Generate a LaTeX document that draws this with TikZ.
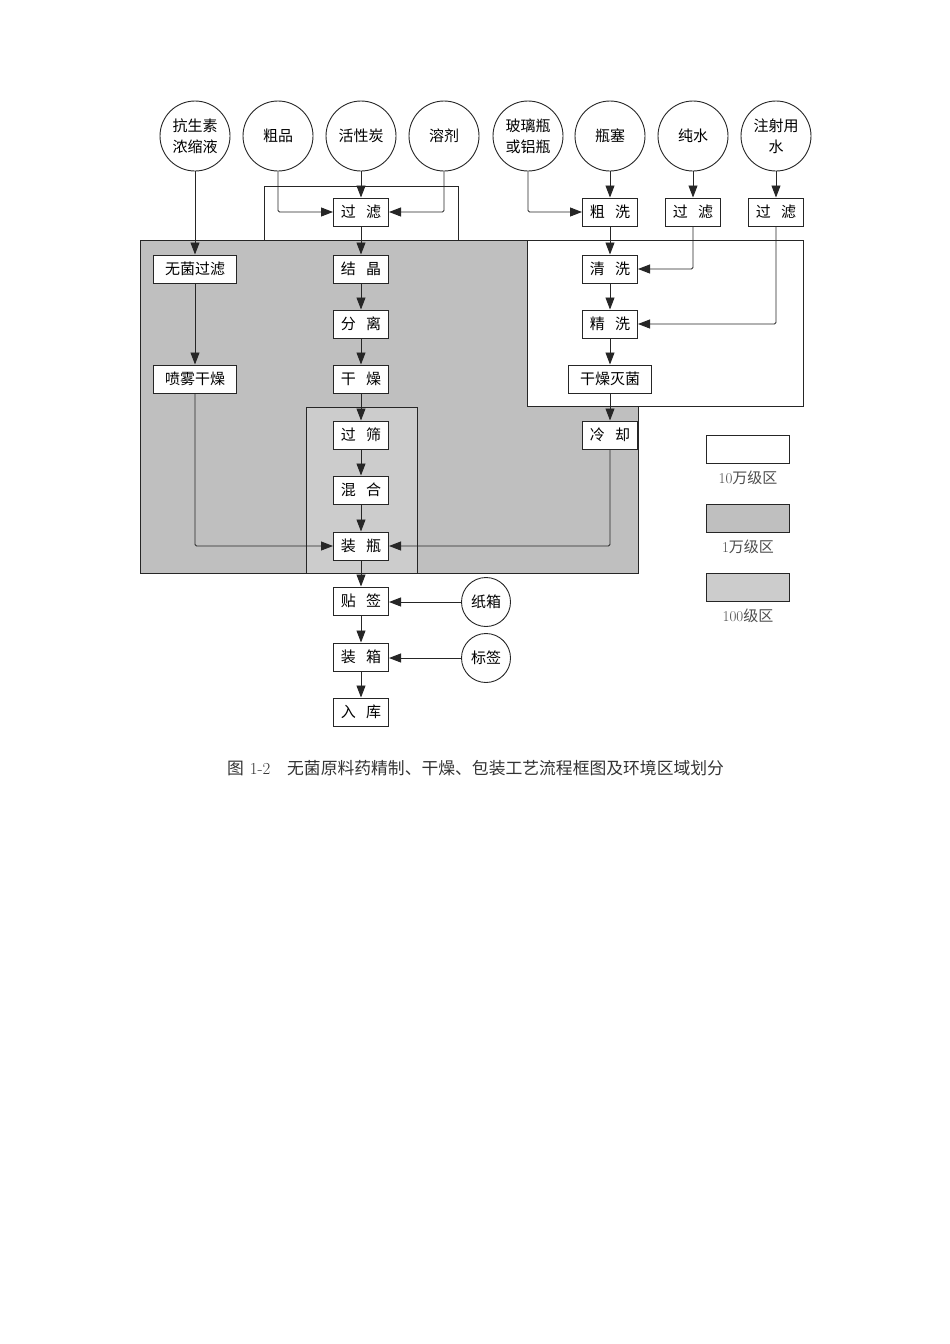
\documentclass[tikz,border=0pt]{standalone}
\usepackage{fontspec}
\newfontfamily\hei{Noto Sans CJK SC}
\usetikzlibrary{arrows.meta,positioning}

\definecolor{zoneA}{gray}{0.75}
\definecolor{zoneB}{gray}{0.80}
\definecolor{lineC}{gray}{0.15}
\newcommand\kg{\hspace{.7em}}

\tikzset{
  proc/.style={draw=lineC, line width=1pt, fill=white, minimum width=55pt, minimum height=28pt,
    inner sep=0pt, font=\hei\fontsize{15}{18}\selectfont},
  wproc/.style={proc, minimum width=83pt},
  src/.style={circle, draw=lineC, line width=0.9pt, fill=white, minimum size=70pt, inner sep=0pt,
    align=center, font=\hei\fontsize{15}{21}\selectfont},
  ssrc/.style={src, minimum size=49pt},
  flow/.style={->, draw=lineC, line width=0.9pt, rounded corners=1.5pt},
  lgbox/.style={draw=lineC, line width=1pt, minimum width=83pt, minimum height=28pt, inner sep=0pt},
  lgtext/.style={text=black!70, font=\fontsize{15}{18}\selectfont, inner sep=0pt},
}

\begin{document}
\begin{tikzpicture}[x=1pt, y=-1pt, >={Triangle[length=12pt,width=9pt]}]
  \useasboundingbox (0,0) rectangle (950,1344);

  % Zones
  \filldraw[fill=zoneA, draw=lineC, line width=1pt] (140,240) rectangle (638,573);
  \filldraw[fill=zoneB, draw=lineC, line width=1pt] (306,407) rectangle (417,573);
  \filldraw[fill=white, draw=lineC, line width=1pt] (527,240) rectangle (803,406);
  \draw[lineC, line width=1pt] (264,186) rectangle (458,240);

  % Nodes
  \node[src] (Ksu) at (195,136) {抗生素\\浓缩液};
  \node[src] (Cp)  at (278,136) {粗品};
  \node[src] (Hxt) at (361,136) {活性炭};
  \node[src] (Rj)  at (444,136) {溶剂};
  \node[src] (Blp) at (528,136) {玻璃瓶\\或铝瓶};
  \node[src] (Ps)  at (610,136) {瓶塞};
  \node[src] (Cs)  at (693,136) {纯水};
  \node[src] (Zs)  at (776,136) {注射用\\水};

  \node[proc]  (Gl)   at (361,212) {过\kg 滤};
  \node[wproc] (Wjgl) at (195,269) {无菌过滤};
  \node[wproc] (Pwgz) at (195,379) {喷雾干燥};
  \node[proc]  (Jj)   at (361,269) {结\kg 晶};
  \node[proc]  (Fl)   at (361,324) {分\kg 离};
  \node[proc]  (Gz)   at (361,379) {干\kg 燥};
  \node[proc]  (Gs)   at (361,435) {过\kg 筛};
  \node[proc]  (Hh)   at (361,490) {混\kg 合};
  \node[proc]  (Zp)   at (361,546) {装\kg 瓶};
  \node[proc]  (Tq)   at (361,601) {贴\kg 签};
  \node[proc]  (Zxg)  at (361,657) {装\kg 箱};
  \node[proc]  (Rk)   at (361,712) {入\kg 库};

  \node[proc]  (Cx)   at (610,212) {粗\kg 洗};
  \node[proc]  (Gl2)  at (693,212) {过\kg 滤};
  \node[proc]  (Gl3)  at (776,212) {过\kg 滤};
  \node[proc]  (Qx)   at (610,269) {清\kg 洗};
  \node[proc]  (Jx)   at (610,324) {精\kg 洗};
  \node[wproc] (Gzmj) at (610,379) {干燥灭菌};
  \node[proc]  (Lq)   at (610,435) {冷\kg 却};

  \node[ssrc] (Zx) at (486,602) {纸箱};
  \node[ssrc] (Bq) at (486,658) {标签};

  % Arrows
  \draw[flow] (Ksu) -- (Wjgl);
  \draw[flow] (Wjgl) -- (Pwgz);
  \draw[flow] (Pwgz) |- (Zp);
  \draw[flow] (Cp) |- (Gl);
  \draw[flow] (Hxt) -- (Gl);
  \draw[flow] (Rj) |- (Gl);
  \draw[flow] (Gl) -- (Jj);
  \draw[flow] (Jj) -- (Fl);
  \draw[flow] (Fl) -- (Gz);
  \draw[flow] (Gz) -- (Gs);
  \draw[flow] (Gs) -- (Hh);
  \draw[flow] (Hh) -- (Zp);
  \draw[flow] (Zp) -- (Tq);
  \draw[flow] (Tq) -- (Zxg);
  \draw[flow] (Zxg) -- (Rk);
  \draw[flow] (Zx) -- (Zx -| Tq.east);
  \draw[flow] (Bq) -- (Bq -| Zxg.east);

  \draw[flow] (Blp) |- (Cx);
  \draw[flow] (Ps) -- (Cx);
  \draw[flow] (Cs) -- (Gl2);
  \draw[flow] (Zs) -- (Gl3);
  \draw[flow] (Cx) -- (Qx);
  \draw[flow] (Gl2) |- (Qx);
  \draw[flow] (Qx) -- (Jx);
  \draw[flow] (Gl3) |- (Jx);
  \draw[flow] (Jx) -- (Gzmj);
  \draw[flow] (Gzmj) -- (Lq);
  \draw[flow] (Lq) |- (Zp);

  % Legend
  \node[lgbox, fill=white] (Lg1) at (748,449) {};
  \node[lgtext, below=7pt of Lg1] (Lt1) {10{\hei 万级区}};
  \node[lgbox, fill=zoneA] (Lg2) at (748,518) {};
  \node[lgtext, below=7pt of Lg2] (Lt2) {1{\hei 万级区}};
  \node[lgbox, fill=zoneB] (Lg3) at (748,587) {};
  \node[lgtext, below=7pt of Lg3] (Lt3) {100{\hei 级区}};

  % Caption
  \node[anchor=west, inner sep=0pt, text=black!80, font=\fontsize{16.8}{20}\selectfont] (Cap) at (227,768)
    {{\hei 图}\hspace{.35em}1-2\hspace{1em}{\hei 无菌原料药精制、干燥、包装工艺流程框图及环境区域划分}};
\end{tikzpicture}
\end{document}
